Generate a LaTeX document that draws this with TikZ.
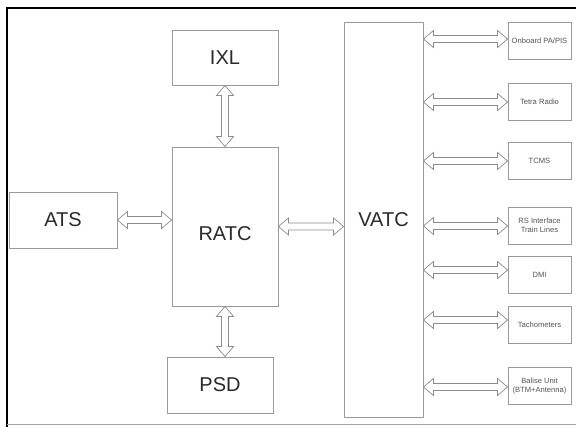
\documentclass[tikz,border=0pt]{standalone}
\usepackage{fontspec}
\setmainfont{Liberation Sans}
\usetikzlibrary{calc}
\definecolor{boxgray}{HTML}{9A9A9A}
\definecolor{txtgray}{HTML}{2A2A2A}
\definecolor{smalltxt}{HTML}{555555}
\definecolor{arrgray}{HTML}{8C8C8C}
\tikzset{
  box/.style={draw=boxgray, line width=0.9pt, fill=white, inner sep=0pt, text=txtgray, align=center},
  bigbox/.style={box, font=\fontsize{20}{24}\selectfont},
  smallbox/.style={box, minimum width=63pt, minimum height=37pt, text=smalltxt, font=\fontsize{7.6}{9}\selectfont},
  arr/.style={draw=arrgray, line width=0.7pt, fill=white, line join=miter},
  harr/.style={to path={let \p1=(\tikztostart), \p2=(\tikztotarget) in
     (\x1,\y1) -- (\x1+10pt,\y1+8.5pt) -- (\x1+10pt,\y1+3.5pt) -- (\x2-10pt,\y1+3.5pt) -- (\x2-10pt,\y1+8.5pt) -- (\x2,\y1)
     -- (\x2-10pt,\y1-8.5pt) -- (\x2-10pt,\y1-3.5pt) -- (\x1+10pt,\y1-3.5pt) -- (\x1+10pt,\y1-8.5pt) -- cycle}},
  varr/.style={to path={let \p1=(\tikztostart), \p2=(\tikztotarget) in
     (\x1,\y1) -- (\x1+8.5pt,\y1-10pt) -- (\x1+3.5pt,\y1-10pt) -- (\x1+3.5pt,\y2+10pt) -- (\x1+8.5pt,\y2+10pt) -- (\x1,\y2)
     -- (\x1-8.5pt,\y2+10pt) -- (\x1-3.5pt,\y2+10pt) -- (\x1-3.5pt,\y1-10pt) -- (\x1-8.5pt,\y1-10pt) -- cycle}}
}
\begin{document}
\begin{tikzpicture}[x=1pt,y=-1pt]
\useasboundingbox (0,0) rectangle (576,426);
% frame
\draw[black, line width=2pt] (7,427) -- (7,8) -- (577,8);
\draw[gray!70, line width=1.5pt] (7,424.5) -- (577,424.5);

% main boxes
\node[bigbox, minimum width=106pt, minimum height=55pt] (IXL) at (225,57.5) {IXL};
\node[bigbox, minimum width=106pt, minimum height=159pt] (RATC) at (225,226.5) {};
\node[text=txtgray, font=\fontsize{20}{24}\selectfont, inner sep=0pt] (RATClbl) at (225,234) {RATC};
\node[bigbox, minimum width=108pt, minimum height=56pt] (ATS) at (63,220) {ATS};
\node[bigbox, minimum width=106pt, minimum height=56pt] (PSD) at (220,385) {PSD};
\node[bigbox, minimum width=79pt, minimum height=395pt] (VATC) at (383.5,219.5) {VATC};

% right column boxes
\node[smallbox] (b1) at (539.5,40.5) {Onboard PA/PIS};
\node[smallbox] (b2) at (539.5,102) {Tetra Radio};
\node[smallbox] (b3) at (539.5,161) {TCMS};
\node[smallbox] (b4) at (539.5,225.5) {RS Interface\\Train Lines};
\node[smallbox] (b5) at (539.5,274.5) {DMI};
\node[smallbox] (b6) at (539.5,324.5) {Tachometers};
\node[smallbox] (b7) at (539.5,386) {Balise Unit\\(BTM+Antenna)};

% connectors
\draw[arr] (IXL.south) to[varr] (RATC.north);
\draw[arr] (RATC.south) to[varr] (RATC.south |- PSD.north);
\draw[arr] (ATS.east) to[harr] (ATS.east -| RATC.west);
\draw[arr] (RATC.east) to[harr] (RATC.east -| VATC.west);
\foreach \b/\dy in {b1/-1.5,b2/0,b3/0,b4/0.5,b5/-4.5,b6/-4.5,b7/1}{
  \draw[arr] ($(\b.west -| VATC.east)+(0,\dy)$) to[harr] ($(\b.west)+(0,\dy)$);
}
\end{tikzpicture}
\end{document}
